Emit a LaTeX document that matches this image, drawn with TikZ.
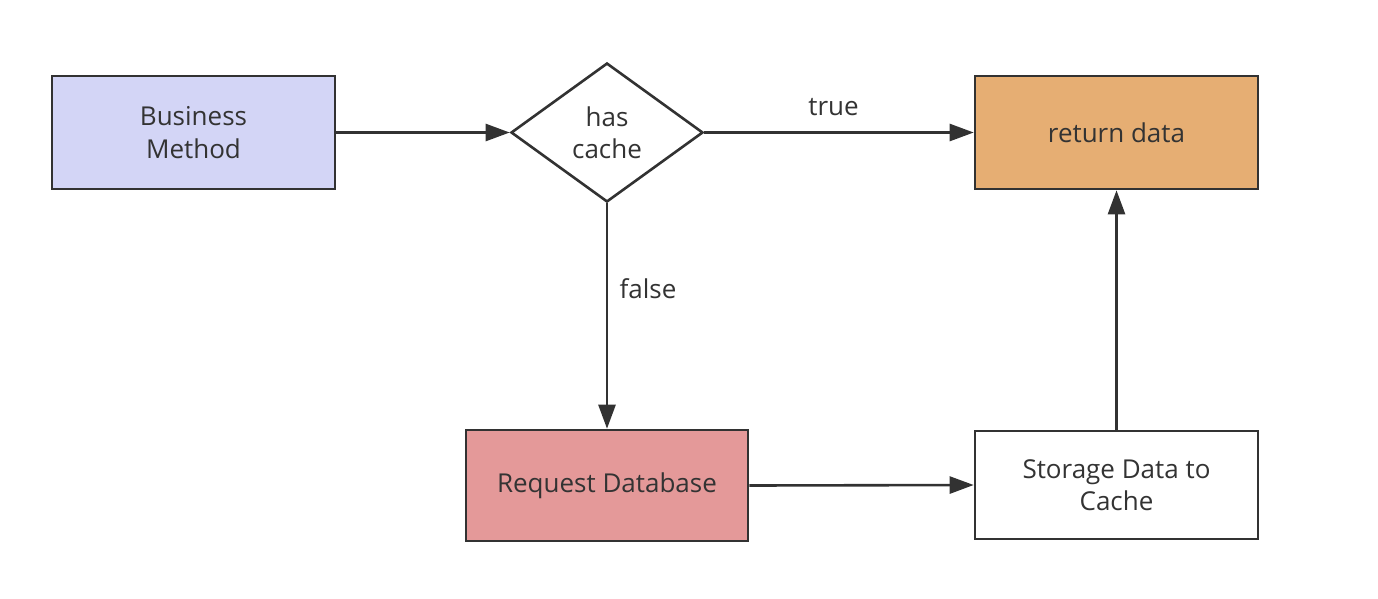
\documentclass[tikz,border=0pt]{standalone}
\usepackage{fontspec}
\setmainfont{Open Sans}
\usetikzlibrary{shapes.geometric,arrows.meta}
\definecolor{strokec}{HTML}{323232}
\definecolor{lav}{HTML}{D3D5F6}
\definecolor{orng}{HTML}{E6AE73}
\definecolor{rose}{HTML}{E49999}
\definecolor{txt}{HTML}{333333}
\tikzset{
  txtfont/.style={font=\fontsize{26}{32.5}\selectfont},
  box/.style={draw=strokec, line width=2.6pt, minimum width=283pt, minimum height=113pt, inner sep=0pt, align=center, text=txt, txtfont},
  dia/.style={draw=strokec, line width=2.6pt, diamond, minimum width=192pt, minimum height=139pt, inner sep=0pt, align=center, text=txt, txtfont, fill=white},
  conn/.style={draw=strokec, line width=2.6pt, -{Triangle[length=24pt,width=17pt]}},
  lbl/.style={text=txt, txtfont}
}
\begin{document}
\begin{tikzpicture}[x=1pt,y=-1pt]
\useasboundingbox (0,0) rectangle (1378,598);
\node[box, fill=lav] (bm) at (193.5,132.5) {Business\\Method};
\node[dia] (hc) at (607,132.5) {has\\cache};
\node[box, fill=orng] (rd) at (1116.5,132.5) {return data};
\node[box, fill=rose, minimum height=111pt, minimum width=282pt] (req) at (607,485.5) {Request Database};
\node[box, fill=white, minimum height=108pt] (st) at (1116.5,485) {Storage Data to\\Cache};
\draw[conn] (bm.east) -- (hc.west);
\draw[conn] (hc.east) -- node[lbl, above=12pt, pos=0.48] (tl) {true} (rd.west);
\draw[conn] (hc.south) -- node[lbl, right=8pt, pos=0.38] (fl) {false} (req.north);
\draw[conn] (req.east) -- (st.west);
\draw[conn] (st.north) -- (rd.south);
\end{tikzpicture}
\end{document}
